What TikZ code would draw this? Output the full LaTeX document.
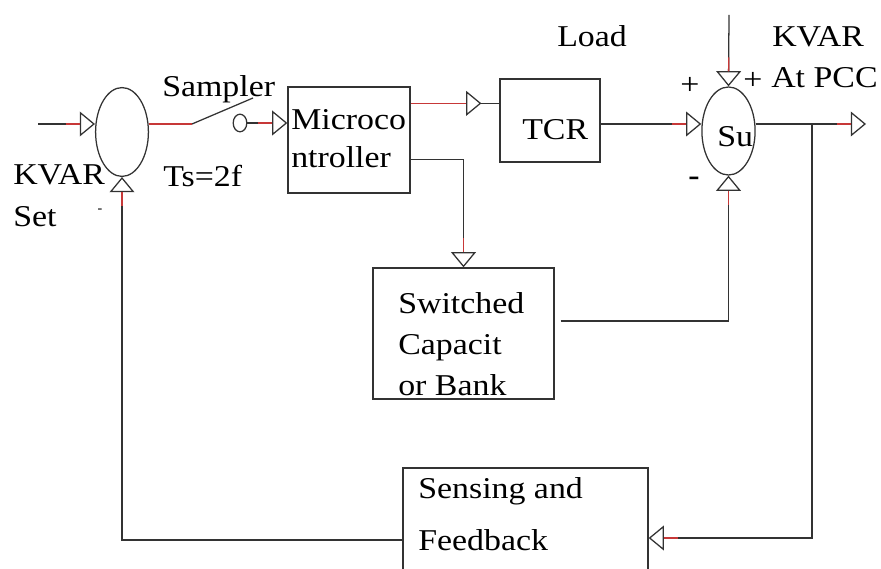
\documentclass[tikz,border=0pt]{standalone}
\usepackage{fontspec}
\setmainfont[FakeStretch=1.12]{Liberation Serif}
\usetikzlibrary{arrows.meta,shapes.geometric,calc,decorations.markings}

\definecolor{wire}{rgb}{0.2,0.2,0.2}
\definecolor{wirered}{rgb}{0.78,0.22,0.22}

\tikzset{
	blk/.style={draw=wire, line width=0.9pt, rectangle, inner sep=0pt},
	summer/.style={draw=wire, line width=0.9pt, ellipse, inner sep=0pt, minimum width=1.32cm, minimum height=2.22cm},
	sig/.style={draw=wire, line width=0.9pt, -{Triangle[open,length=0.38cm,width=0.62cm]},
		postaction={decorate, decoration={markings, mark=at position 1 with {\draw[wirered, line width=0.9pt, -] (-29,0) -- (-15,0);}}}},
	wireline/.style={draw=wire, line width=0.9pt},
	lbl/.style={inner sep=0pt, anchor=base west}
}

\begin{document}
\begin{tikzpicture}[x=0.025cm, y=-0.025cm]
		\tikzstyle{every node}=[font=\fontsize{21.5pt}{27pt}\selectfont]
		\clip (0,0) rectangle (881,569);
		\fill[white] (0,0) rectangle (881,569);
		
		% summing points
		\node[summer] (sumL) at (122,132) {};
		\node[summer, minimum width=1.33cm, minimum height=2.2cm] (sumR) at (728.5,131) {};
		
		% blocks
		\node[blk, minimum width=3.05cm, minimum height=2.65cm] (mc) at (349,140) {};
		\node[blk, minimum width=2.5cm, minimum height=2.075cm] (tcr) at (550,120.5) {};
		\node[blk, minimum width=4.525cm, minimum height=3.275cm] (scb) at (463.5,333.5) {};
		\node[blk, minimum width=6.125cm, minimum height=3.05cm] (sense) at (525.5,529) {};
		
		% block texts
		\node[inner sep=0pt, anchor=west, align=left] (mcText) at (291,139) {Microco\\ntroller};
		\node[lbl] (tcrText) at (522,140) {TCR};
		\node[inner sep=0pt, anchor=west, align=left, font=\fontsize{21.5pt}{29pt}\selectfont] (scbText) at (398,344) {Switched\\Capacit\\or Bank};
		\node[inner sep=0pt, anchor=west, align=left, font=\fontsize{21.5pt}{37pt}\selectfont] (senseText) at (418,514) {Sensing and\\Feedback};
		\node[lbl] (suText) at (717,147) {Su};
		
		% labels
		\node[lbl] (kvarSet) at (13,185) {KVAR};
		\node[lbl] (setText) at (13,227) {Set};
		\node[font=\fontsize{9pt}{9pt}\selectfont\bfseries, inner sep=0pt] (minusL) at (100,211) {-};
		\node[lbl] (samplerText) at (162,97) {Sampler};
		\node[lbl] (tsText) at (163,187) {Ts=2f};
		\node[lbl] (loadText) at (557,47) {Load};
		\node[lbl] (kvarPcc) at (772,47) {KVAR};
		\node[lbl] (atPcc) at (771,88) {At PCC};
		\node[inner sep=0pt] (plusL) at (690,86) {+};
		\node[inner sep=0pt] (plusT) at (753,81) {+};
		\node[font=\fontsize{21.5pt}{27pt}\selectfont\bfseries, inner sep=0pt] (minusR) at (694,181) {-};
		
		% reference input and sampler switch
		\coordinate (kvarIn) at (38,124);
		\draw[sig] (kvarIn) -- (sumL.west |- kvarIn);
		\coordinate (swA) at (192,124);
		\coordinate (swB) at (253,98);
		\draw[wirered, line width=0.9pt] (sumL.east |- kvarIn) -- (swA);
		\draw[wireline] (swA) -- (swB);
		\node[draw=wire, line width=0.9pt, ellipse, inner sep=0pt, minimum width=0.34cm, minimum height=0.44cm] (swC) at (240,123) {};
		\draw[sig] (swC) -- (mc.west |- swC);
		
		% controller outputs
		\coordinate (mcA) at ($(mc.north east)+(0,17)$);
		\coordinate (tcrIn) at (tcr.west |- mcA);
		\coordinate (tcrTip) at ($(tcrIn)+(-18,0)$);
		\draw[sig] (mcA) -- (tcrTip);
		\draw[wirered, line width=0.9pt] (mcA) -- ++(52,0);
		\draw[wireline] (tcrTip) -- (tcrIn);
		\coordinate (mcB) at ($(mc.south east)+(0,-34)$);
		\draw[sig] (mcB) -| (scb.north);
		
		% into the right summing point
		\coordinate (tcrOut) at ($(tcr.east)+(0,3.5)$);
		\draw[sig] (tcrOut) -- (sumR.west |- tcrOut);
		\coordinate (loadIn) at (729,15);
		\draw[sig] (loadIn) -- (sumR.north);
		\coordinate (scbOut) at ($(scb.east)+(6,-12.5)$);
		\draw[sig] (scbOut) -| (sumR.south);
		
		% output and feedback loop
		\coordinate (pcc) at (866,124);
		\draw[sig] (sumR.east |- pcc) -- (pcc);
		\coordinate (br) at (812,124);
		\coordinate (fbIn) at ($(sense.east)+(0,9)$);
		\draw[sig] (br) |- (fbIn);
		\draw[sig] ($(sense.west)+(0,11)$) -| (sumL.south);
		
	\end{tikzpicture}
\end{document}
